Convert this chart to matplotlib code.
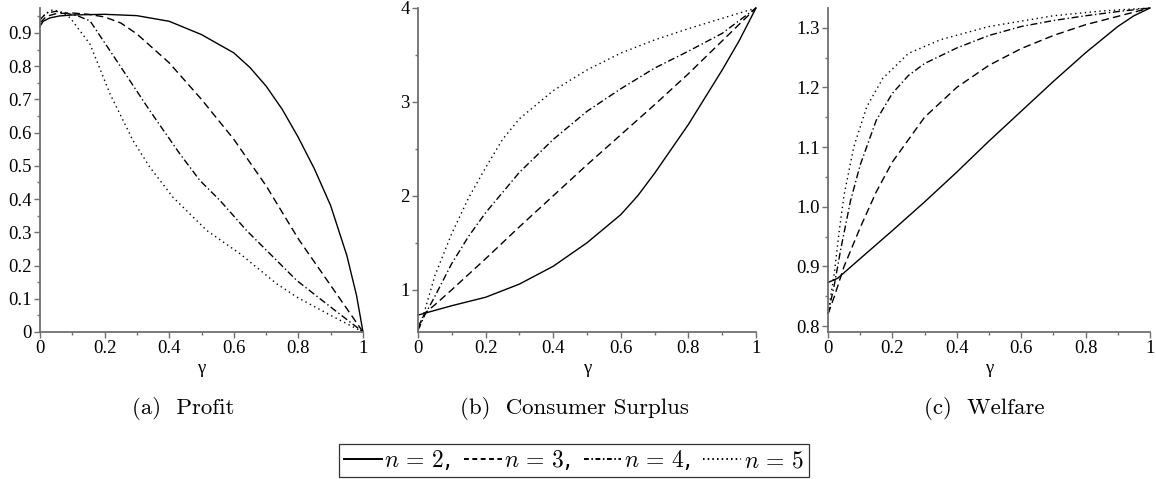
import matplotlib
matplotlib.use("Agg")
import matplotlib.pyplot as plt
from matplotlib.lines import Line2D
from matplotlib.ticker import MultipleLocator, FixedLocator

plt.rcParams['mathtext.fontset'] = 'cm'

# ---------------- data ----------------
# (a) Profit
profit_g_n2 = [0, 0.01, 0.03, 0.06, 0.1, 0.2, 0.3, 0.4, 0.5, 0.6, 0.65, 0.7, 0.75, 0.8, 0.85, 0.9, 0.95, 0.98, 1.0]
profit_n2 = [0.92, 0.935, 0.945, 0.951, 0.954, 0.956, 0.952, 0.935, 0.895, 0.84, 0.796, 0.74, 0.67, 0.585, 0.49, 0.38, 0.23, 0.11, 0.0]
profit_g_n3 = [0, 0.02, 0.05, 0.1, 0.15, 0.2, 0.25, 0.3, 0.4, 0.5, 0.6, 0.7, 0.8, 0.9, 1.0]
profit_n3 = [0.93, 0.95, 0.958, 0.96, 0.956, 0.948, 0.93, 0.897, 0.81, 0.70, 0.58, 0.44, 0.28, 0.14, 0.0]
profit_g_n4 = [0, 0.02, 0.05, 0.08, 0.12, 0.155, 0.217, 0.34, 0.433, 0.495, 0.557, 0.64, 0.733, 0.795, 0.9, 1.0]
profit_n4 = [0.94, 0.96, 0.965, 0.96, 0.95, 0.936, 0.846, 0.666, 0.536, 0.456, 0.396, 0.305, 0.215, 0.155, 0.075, 0.0]
profit_g_n5 = [0, 0.02, 0.04, 0.07, 0.093, 0.155, 0.217, 0.288, 0.34, 0.412, 0.517, 0.62, 0.733, 0.795, 0.9, 1.0]
profit_n5 = [0.94, 0.96, 0.97, 0.96, 0.946, 0.866, 0.716, 0.576, 0.496, 0.405, 0.305, 0.235, 0.145, 0.105, 0.05, 0.0]

# (b) Consumer Surplus
cs_g_n2 = [0, 0.05, 0.1, 0.2, 0.3, 0.4, 0.5, 0.6, 0.65, 0.7, 0.75, 0.8, 0.85, 0.9, 0.95, 1.0]
cs_n2 = [0.73, 0.78, 0.83, 0.92, 1.06, 1.25, 1.5, 1.8, 2.0, 2.24, 2.5, 2.76, 3.05, 3.34, 3.65, 4.0]
cs_g_n3 = [0, 0.02, 0.05, 0.1, 0.2, 0.3, 0.4, 0.5, 0.6, 0.7, 0.8, 0.9, 1.0]
cs_n3 = [0.6, 0.75, 0.84, 1.0, 1.33, 1.67, 2.0, 2.33, 2.65, 2.97, 3.3, 3.65, 4.0]
cs_g_n4 = [0, 0.02, 0.05, 0.1, 0.15, 0.2, 0.3, 0.4, 0.5, 0.6, 0.7, 0.8, 0.9, 1.0]
cs_n4 = [0.57, 0.73, 0.93, 1.28, 1.57, 1.82, 2.25, 2.6, 2.9, 3.14, 3.36, 3.54, 3.73, 4.0]
cs_g_n5 = [0, 0.02, 0.05, 0.1, 0.15, 0.2, 0.25, 0.3, 0.4, 0.5, 0.6, 0.7, 0.8, 0.9, 1.0]
cs_n5 = [0.55, 0.78, 1.15, 1.6, 1.98, 2.3, 2.6, 2.82, 3.12, 3.34, 3.52, 3.66, 3.78, 3.89, 4.0]

# (c) Welfare
w_g_n2 = [0, 0.03, 0.1, 0.2, 0.3, 0.4, 0.5, 0.6, 0.7, 0.8, 0.9, 0.95, 1.0]
w_n2 = [0.873, 0.880, 0.913, 0.96, 1.008, 1.058, 1.11, 1.16, 1.21, 1.258, 1.302, 1.32, 1.333]
w_g_n3 = [0, 0.02, 0.05, 0.1, 0.15, 0.2, 0.3, 0.4, 0.5, 0.6, 0.7, 0.8, 0.9, 1.0]
w_n3 = [0.82, 0.85, 0.90, 0.965, 1.025, 1.075, 1.15, 1.2, 1.237, 1.265, 1.287, 1.305, 1.319, 1.333]
w_g_n4 = [0, 0.02, 0.04, 0.07, 0.1, 0.15, 0.2, 0.25, 0.3, 0.4, 0.5, 0.6, 0.7, 0.8, 0.9, 1.0]
w_n4 = [0.82, 0.87, 0.93, 1.01, 1.07, 1.145, 1.19, 1.22, 1.24, 1.266, 1.287, 1.302, 1.312, 1.32, 1.327, 1.333]
w_g_n5 = [0, 0.02, 0.035, 0.05, 0.08, 0.12, 0.17, 0.25, 0.35, 0.5, 0.7, 0.85, 1.0]
w_n5 = [0.82, 0.89, 0.96, 1.02, 1.1, 1.167, 1.215, 1.257, 1.28, 1.302, 1.32, 1.328, 1.333]

captions = ["(a)  Profit", "(b)  Consumer Surplus", "(c)  Welfare"]
legend_labels = ["$n\\,=\\,2$,", "$n\\,=\\,3$,", "$n\\,=\\,4$,", "$n\\,=\\,5$"]

# ---------------- styles ----------------
styles = [
    dict(ls='-'),
    dict(ls=(0, (5.5, 3))),
    dict(ls=(0, (5, 2, 1, 2))),
    dict(ls=(0, (1, 2.5))),
]
leg_styles = [
    dict(ls='-'),
    dict(ls=(0, (2.5, 1.8))),
    dict(ls=(0, (2.5, 1.3, 0.8, 1.3))),
    dict(ls=(0, (0.8, 1.6))),
]
LW = 1.0
tickfont = dict(family='Liberation Serif', size=13.5)

fig = plt.figure(figsize=(11.56, 4.79), dpi=100)
W, H = 1156, 479

def make_ax(x0, x1, ytop=8, ybot=332):
    return fig.add_axes([x0 / W, 1 - ybot / H, (x1 - x0) / W, (ybot - ytop) / H])

axa = make_ax(40, 363)
axb = make_ax(418, 756)
axc = make_ax(828, 1150)

panels = [
    (axa, [(profit_g_n2, profit_n2), (profit_g_n3, profit_n3), (profit_g_n4, profit_n4), (profit_g_n5, profit_n5)]),
    (axb, [(cs_g_n2, cs_n2), (cs_g_n3, cs_n3), (cs_g_n4, cs_n4), (cs_g_n5, cs_n5)]),
    (axc, [(w_g_n2, w_n2), (w_g_n3, w_n3), (w_g_n4, w_n4), (w_g_n5, w_n5)]),
]

for ax, series in panels:
    for (g, v), st in zip(series, styles):
        ax.plot(g, v, color='black', lw=LW, clip_on=False, **st)
    for s in ['top', 'right']:
        ax.spines[s].set_visible(False)
    for s in ['left', 'bottom']:
        ax.spines[s].set_color('#707070')
        ax.spines[s].set_linewidth(1.3)
    ax.set_xlim(0, 1)
    ax.xaxis.set_major_locator(FixedLocator([0, 0.2, 0.4, 0.6, 0.8, 1.0]))
    ax.set_xticklabels(["0", "0.2", "0.4", "0.6", "0.8", "1"], fontdict=tickfont)
    ax.xaxis.set_minor_locator(MultipleLocator(0.1))
    ax.tick_params(which='both', color='#707070', width=1.0, direction='out')
    ax.tick_params(which='major', length=4, pad=2)
    ax.tick_params(which='minor', length=2.5)
    ax.set_xlabel("γ", fontdict=dict(family='Liberation Serif', size=13.5), labelpad=2)

axa.set_ylim(0, 0.975)
yt = [0, 0.1, 0.2, 0.3, 0.4, 0.5, 0.6, 0.7, 0.8, 0.9]
axa.yaxis.set_major_locator(FixedLocator(yt))
axa.set_yticklabels(["0"] + [f"{v:.1f}" for v in yt[1:]], fontdict=tickfont)
axa.yaxis.set_minor_locator(MultipleLocator(0.05))

axb.set_ylim(0.55, 4.0)
axb.yaxis.set_major_locator(FixedLocator([1, 2, 3, 4]))
axb.set_yticklabels(["1", "2", "3", "4"], fontdict=tickfont)
axb.yaxis.set_minor_locator(MultipleLocator(0.5))

axc.set_ylim(0.79, 1.333)
yc = [0.8, 0.9, 1.0, 1.1, 1.2, 1.3]
axc.yaxis.set_major_locator(FixedLocator(yc))
axc.set_yticklabels([f"{v:.1f}" for v in yc], fontdict=tickfont)
axc.yaxis.set_minor_locator(MultipleLocator(0.05))

# captions
cap_x = [183, 574, 984]
for cx, cap in zip(cap_x, captions):
    fig.text(cx / W, 1 - 409 / H, cap, ha='center', va='center', family='cmr10', size=16.5)

# legend
handles = [Line2D([], [], color='black', lw=1.4, **st) for st in leg_styles]
leg = fig.legend(handles, legend_labels, loc='center', bbox_to_anchor=(574 / W, 1 - 460.5 / H),
                 ncol=4, frameon=True, fancybox=False, edgecolor='black', fontsize=17,
                 handlelength=1.6, handletextpad=0.1, columnspacing=0.55, borderpad=0.2,
                 borderaxespad=0)
leg.get_frame().set_linewidth(0.9)

fig.savefig("out.png", dpi=100)
